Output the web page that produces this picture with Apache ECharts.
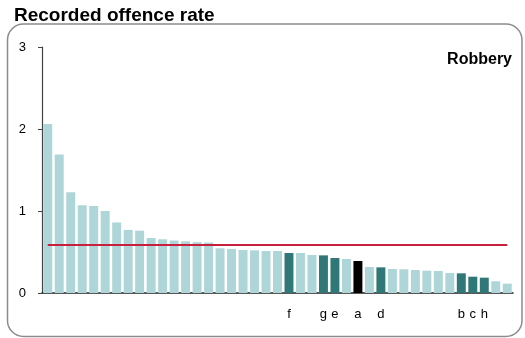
<!DOCTYPE html>
<html>
<head>
<meta charset="utf-8">
<script src="https://cdn.jsdelivr.net/npm/echarts@6/dist/echarts.min.js"></script>
<style>
html,body{margin:0;padding:0;background:#fff;}
#chart{width:525px;height:338px;}
</style>
</head>
<body>
<div id="chart"></div>
<script>
// Area labels per bar ('' = unlabelled area)
var areaLabels = ['','','','','','','','','','','','','','','','','','','','','',
  'f','','','g','e','','a','','d','','','','','','','b','c','h','',''];
// Recorded offence rate (robbery) per area, sorted descending
var rates = [2.06,1.69,1.23,1.07,1.06,1.00,0.86,0.77,0.76,0.67,0.655,0.64,0.63,0.62,0.615,
  0.545,0.537,0.524,0.52,0.512,0.512,0.488,0.488,0.463,0.459,0.427,0.415,0.39,0.317,0.313,
  0.293,0.289,0.28,0.272,0.268,0.244,0.24,0.199,0.187,0.143,0.114];
// 0 = other area, 1 = comparison area, 2 = selected area
var barGroup = [0,0,0,0,0,0,0,0,0,0,0,0,0,0,0,0,0,0,0,0,0,
  1,0,0,1,1,0,2,0,1,0,0,0,0,0,0,1,1,1,0,0];
var averageRate = 0.583;
var yTicks = [0,1,2,3];
var chartTitle = 'Recorded offence rate';
var panelTitle = 'Robbery';

var groupColors = ['#aed5d8','#2f7877','#000000'];
var cats = rates.map(function(_, i){ return String(i); });
var barData = rates.map(function(v, i){
  return { value: v, itemStyle: { color: groupColors[barGroup[i]] } };
});

var chart = echarts.init(document.getElementById('chart'), null, {renderer:'canvas'});
chart.setOption({
  animation: false,
  textStyle: { fontFamily: 'Liberation Sans, Arial, sans-serif' },
  graphic: [
    { type:'rect', shape:{ x:7.5, y:24, width:514.5, height:312.5, r:16 },
      style:{ fill:'none', stroke:'#8c8c8c', lineWidth:1.5 }, z:-1 },
    { type:'text', x: 14, y: 16,
      style:{ text: chartTitle, font:'bold 19px "Liberation Sans", Arial, sans-serif', fill:'#000',
              textVerticalAlign:'middle', verticalAlign:'middle' } },
    { type:'text', x: 512, y: 60,
      style:{ text: panelTitle, font:'bold 16px "Liberation Sans", Arial, sans-serif', fill:'#000',
              textAlign:'right', align:'right', textVerticalAlign:'middle', verticalAlign:'middle' } }
  ],
  grid: { left: 42, right: 12, top: 47, bottom: 45, containLabel: false },
  xAxis: {
    type: 'category',
    data: cats,
    boundaryGap: true,
    axisLine: { show: true, lineStyle: { color: '#222', width: 1.5 } },
    axisTick: { show: false },
    axisLabel: {
      interval: 0, color: '#000', fontSize: 13, margin: 15,
      formatter: function(v){ return areaLabels[+v]; }
    },
    splitLine: { show: false }
  },
  yAxis: {
    type: 'value',
    min: yTicks[0], max: yTicks[yTicks.length-1], interval: 1,
    axisLine: { show: true, lineStyle: { color: '#444', width: 1.2 } },
    axisTick: { show: true, length: 4, inside: false, lineStyle: { color: '#444' } },
    axisLabel: { color: '#000', fontSize: 13, margin: 16 },
    splitLine: { show: false }
  },
  series: [{
    type: 'bar',
    data: barData,
    barCategoryGap: '22%',
    markLine: {
      silent: true,
      symbol: ['none','none'],
      label: { show: false },
      lineStyle: { color: '#c8203c', width: 2, type: 'solid' },
      data: [[ { coord: [cats[0], averageRate] }, { coord: [cats[cats.length-1], averageRate] } ]]
    }
  }]
});
</script>
</body>
</html>
